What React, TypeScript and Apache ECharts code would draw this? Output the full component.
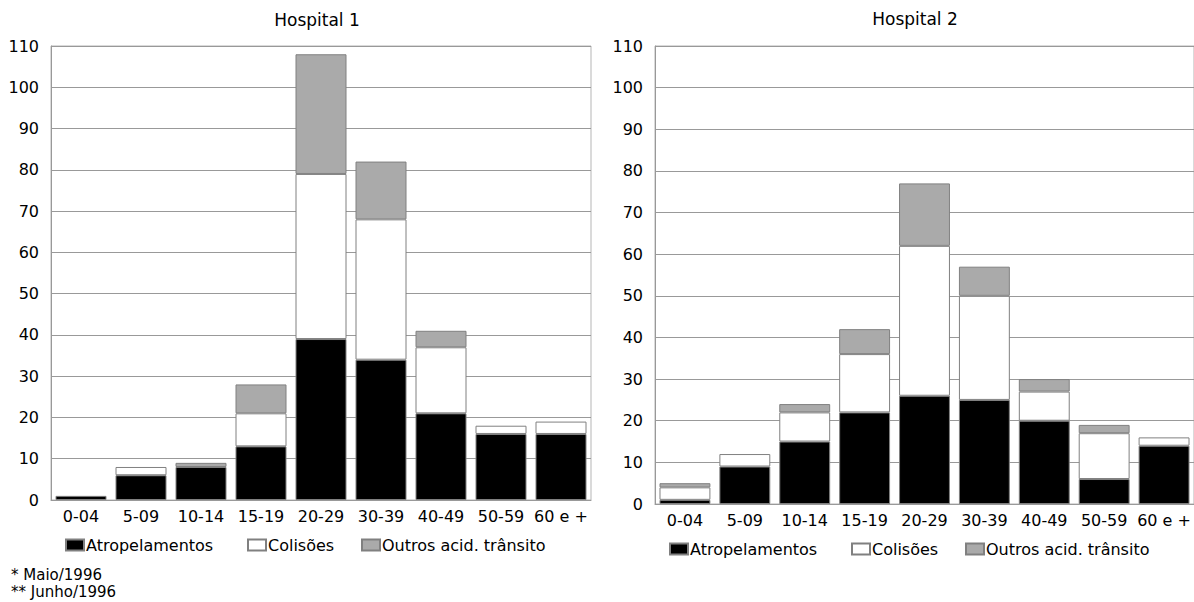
import React, { useEffect, useRef } from "react";
import * as echarts from "echarts";

const categories = ["0-04", "5-09", "10-14", "15-19", "20-29", "30-39", "40-49", "50-59", "60 e +"];
const seriesNames = ["Atropelamentos", "Colisões", "Outros acid. trânsito"];

const h1Atropelamentos = [1, 6, 8, 13, 39, 34, 21, 16, 16];
const h1Colisoes = [0, 2, 0, 8, 40, 34, 16, 2, 3];
const h1Outros = [0, 0, 1, 7, 29, 14, 4, 0, 0];

const h2Atropelamentos = [1, 9, 15, 22, 26, 25, 20, 6, 14];
const h2Colisoes = [3, 3, 7, 14, 36, 25, 7, 11, 2];
const h2Outros = [1, 0, 2, 6, 15, 7, 3, 2, 0];

const titles = ["Hospital 1", "Hospital 2"];
const footnotes = ["* Maio/1996", "** Junho/1996"];

const yMin = 0;
const yMax = 110;
const yInterval = 10;

const FONT = "DejaVu Sans";
const colors = ["#000000", "#ffffff", "#aaaaaa"];

export default function App() {
  const ref = useRef<HTMLDivElement>(null);

  useEffect(() => {
    document.body.style.margin = "0";
    if (!ref.current) return;
    const chart = echarts.init(ref.current, undefined, { renderer: "svg" });

    const toData = (arr: number[]) => arr.map((v) => (v === 0 ? null : v));

    const makeXAxis = (gridIndex: number) => ({
      type: "category",
      gridIndex,
      data: categories,
      axisTick: { show: false },
      axisLine: { show: true, lineStyle: { color: "#999999", width: 1 } },
      axisLabel: { color: "#000", fontFamily: FONT, fontSize: 16, margin: 8, interval: 0 },
    });
    const makeYAxis = (gridIndex: number) => ({
      type: "value",
      gridIndex,
      min: yMin,
      max: yMax,
      interval: yInterval,
      axisTick: { show: false },
      axisLine: { show: true, lineStyle: { color: "#999999", width: 1 } },
      axisLabel: { color: "#000", fontFamily: FONT, fontSize: 16, margin: 12 },
      splitLine: { show: true, lineStyle: { color: "#999999", width: 1 } },
    });

    const hospitals = [
      [h1Atropelamentos, h1Colisoes, h1Outros],
      [h2Atropelamentos, h2Colisoes, h2Outros],
    ];

    const series: any[] = [];
    hospitals.forEach((sets, hi) => {
      sets.forEach((arr, si) => {
        series.push({
          type: "bar",
          name: seriesNames[si],
          xAxisIndex: hi,
          yAxisIndex: hi,
          stack: "h" + hi,
          barCategoryGap: "15%",
          data: toData(arr),
          itemStyle: { color: colors[si], borderColor: "#808080", borderWidth: 1 },
        });
      });
    });

    const legendPos = [
      { xs: [65, 247, 361], top: 537 },
      { xs: [669, 851, 965], top: 541 },
    ];
    const legends: any[] = [];
    legendPos.forEach((lp) => {
      seriesNames.forEach((n, i) => {
        legends.push({
          data: [n],
          left: lp.xs[i],
          top: lp.top,
          padding: 0,
          itemWidth: 18,
          itemHeight: 11,
          itemGap: 0,
          icon: "rect",
          selectedMode: false,
          textStyle: { color: "#000", fontFamily: FONT, fontSize: 16, padding: [0, 0, 0, -3] },
        });
      });
    });

    chart.setOption({
      animation: false,
      backgroundColor: "#ffffff",
      grid: [
        { left: 51, right: 603, top: 46, bottom: 102, show: true, borderColor: "#b5b5b5", borderWidth: 1 },
        { left: 655, right: 0, top: 46, bottom: 98, show: true, borderColor: "#b5b5b5", borderWidth: 1 },
      ],
      xAxis: [makeXAxis(0), makeXAxis(1)],
      yAxis: [makeYAxis(0), makeYAxis(1)],
      legend: legends,
      series,
      graphic: [
        {
          type: "text",
          x: 317,
          y: 20,
          style: { text: titles[0], textAlign: "center", textVerticalAlign: "middle", fill: "#000", font: `17px "${FONT}"` },
        },
        {
          type: "text",
          x: 915,
          y: 19,
          style: { text: titles[1], textAlign: "center", textVerticalAlign: "middle", fill: "#000", font: `17px "${FONT}"` },
        },
        {
          type: "text",
          x: 11,
          y: 575,
          style: { text: footnotes[0], textAlign: "left", textVerticalAlign: "middle", fill: "#000", font: `15px "${FONT}"` },
        },
        {
          type: "text",
          x: 11,
          y: 592,
          style: { text: footnotes[1], textAlign: "left", textVerticalAlign: "middle", fill: "#000", font: `15px "${FONT}"` },
        },
      ],
    });

    return () => chart.dispose();
  }, []);

  return <div ref={ref} style={{ width: 1194, height: 602 }} />;
}
